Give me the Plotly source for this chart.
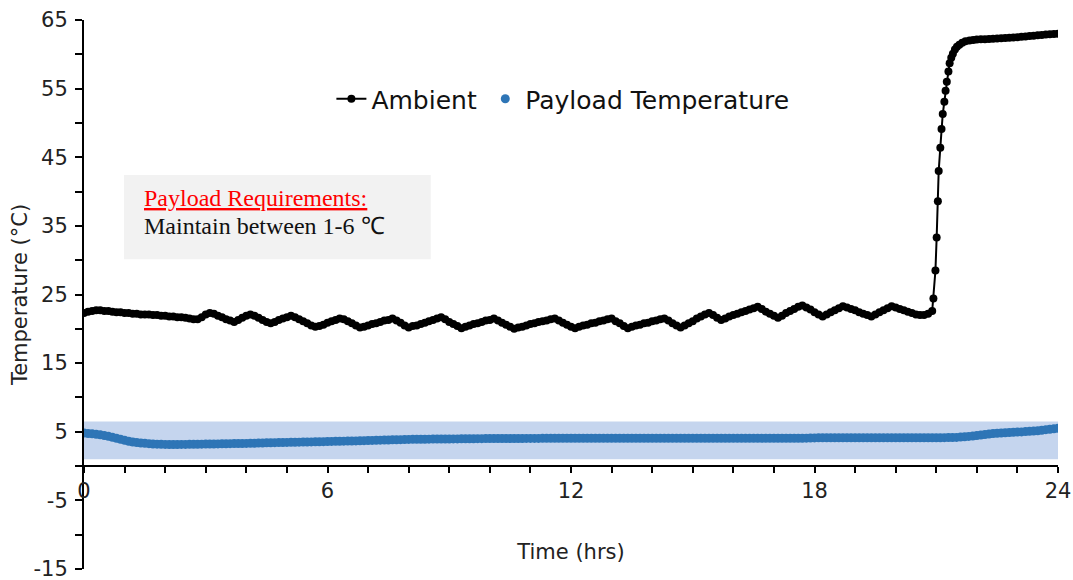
import numpy as np
import plotly.graph_objects as go

# ---------------- data ----------------
STEP_HR = 0.1  # sampling step of the regular records (hours)

# Ambient temperature, regular samples from 0.0 h to 20.9 h
AMBIENT_REG = [
    22.3, 22.5, 22.6, 22.7, 22.7, 22.6, 22.6, 22.5, 22.4, 22.4,
    22.3, 22.3, 22.2, 22.2, 22.1, 22.1, 22.1, 22.0, 22.0, 21.9,
    21.9, 21.8, 21.8, 21.7, 21.7, 21.6, 21.5, 21.4, 21.4, 21.7,
    22.1, 22.3, 22.2, 21.9, 21.7, 21.4, 21.2, 21.0, 21.3, 21.6,
    21.9, 22.1, 21.9, 21.6, 21.3, 21.0, 20.8, 21.0, 21.3, 21.5,
    21.7, 21.9, 21.7, 21.4, 21.1, 20.8, 20.5, 20.3, 20.4, 20.6,
    20.9, 21.1, 21.3, 21.5, 21.4, 21.1, 20.8, 20.5, 20.2, 20.3,
    20.5, 20.7, 20.8, 21.0, 21.2, 21.3, 21.5, 21.2, 20.9, 20.5,
    20.2, 20.4, 20.5, 20.7, 20.9, 21.1, 21.3, 21.5, 21.7, 21.4,
    21.0, 20.7, 20.4, 20.1, 20.3, 20.5, 20.7, 20.8, 21.0, 21.2,
    21.3, 21.5, 21.2, 20.9, 20.6, 20.3, 20.0, 20.2, 20.3, 20.5,
    20.7, 20.8, 21.0, 21.1, 21.2, 21.4, 21.5, 21.2, 20.9, 20.6,
    20.3, 20.1, 20.3, 20.5, 20.6, 20.8, 20.9, 21.1, 21.2, 21.4,
    21.5, 21.1, 20.8, 20.4, 20.1, 20.3, 20.5, 20.6, 20.8, 20.9,
    21.1, 21.2, 21.4, 21.5, 21.2, 20.8, 20.5, 20.2, 20.5, 20.8,
    21.1, 21.5, 21.8, 22.1, 22.3, 22.0, 21.6, 21.3, 21.5, 21.8,
    22.0, 22.2, 22.4, 22.6, 22.8, 23.0, 23.2, 22.9, 22.5, 22.2,
    21.9, 21.6, 21.9, 22.3, 22.6, 22.9, 23.2, 23.4, 23.1, 22.8,
    22.4, 22.1, 21.8, 22.1, 22.4, 22.7, 23.0, 23.3, 23.1, 22.9,
    22.7, 22.4, 22.2, 22.0, 21.8, 22.1, 22.4, 22.7, 23.0, 23.3,
    23.1, 22.9, 22.7, 22.5, 22.3, 22.1, 22.0, 22.0, 22.2, 22.6,
]

# Ambient temperature during the heat spike (irregular sample times)
AMBIENT_SPIKE_TIME = [
    20.93, 20.98, 21.01, 21.04, 21.06, 21.10, 21.13, 21.16, 21.20, 21.23,
    21.26, 21.30, 21.33, 21.37, 21.41, 21.46, 21.51, 21.57, 21.64, 21.72,
    21.82, 21.91,
]
AMBIENT_SPIKE = [
    24.4, 28.5, 33.3, 38.6, 43.0, 46.4, 49.1, 51.3, 53.1, 54.7,
    56.0, 57.5, 58.7, 59.5, 60.1, 60.7, 61.1, 61.4, 61.7, 61.9,
    62.0, 62.1,
]

# Ambient plateau, regular samples from 22.0 h to 24.0 h
PLATEAU_START_HR = 22.0
AMBIENT_PLATEAU = [
    62.15, 62.18, 62.20, 62.23, 62.26, 62.30, 62.33, 62.37, 62.41, 62.45,
    62.50, 62.55, 62.60, 62.66, 62.72, 62.77, 62.82, 62.87, 62.91, 62.95,
    63.00,
]

# Payload temperature, regular samples from 0.0 h to 24.0 h
PAYLOAD = [
    4.80, 4.75, 4.70, 4.62, 4.55, 4.46, 4.35, 4.20, 4.05, 3.90,
    3.76, 3.62, 3.51, 3.42, 3.36, 3.31, 3.26, 3.22, 3.19, 3.17,
    3.16, 3.15, 3.15, 3.15, 3.16, 3.16, 3.17, 3.17, 3.18, 3.19,
    3.20, 3.21, 3.22, 3.23, 3.24, 3.25, 3.26, 3.27, 3.28, 3.29,
    3.30, 3.32, 3.33, 3.35, 3.36, 3.38, 3.39, 3.41, 3.42, 3.44,
    3.45, 3.46, 3.47, 3.48, 3.49, 3.50, 3.52, 3.53, 3.55, 3.56,
    3.58, 3.59, 3.60, 3.61, 3.63, 3.64, 3.66, 3.67, 3.69, 3.70,
    3.72, 3.74, 3.75, 3.77, 3.78, 3.80, 3.82, 3.83, 3.85, 3.86,
    3.88, 3.89, 3.90, 3.90, 3.91, 3.92, 3.93, 3.93, 3.94, 3.94,
    3.95, 3.96, 3.96, 3.97, 3.97, 3.98, 3.98, 3.99, 3.99, 4.00,
    4.00, 4.00, 4.01, 4.01, 4.01, 4.02, 4.02, 4.02, 4.02, 4.03,
    4.03, 4.03, 4.03, 4.04, 4.04, 4.04, 4.04, 4.04, 4.05, 4.05,
    4.05, 4.05, 4.05, 4.05, 4.05, 4.05, 4.05, 4.05, 4.05, 4.05,
    4.05, 4.05, 4.05, 4.05, 4.05, 4.05, 4.05, 4.05, 4.05, 4.05,
    4.05, 4.05, 4.05, 4.05, 4.05, 4.05, 4.05, 4.05, 4.05, 4.05,
    4.04, 4.04, 4.04, 4.04, 4.04, 4.04, 4.04, 4.04, 4.04, 4.04,
    4.04, 4.04, 4.04, 4.04, 4.04, 4.04, 4.04, 4.04, 4.04, 4.04,
    4.05, 4.05, 4.05, 4.05, 4.05, 4.05, 4.06, 4.06, 4.07, 4.08,
    4.10, 4.11, 4.11, 4.11, 4.11, 4.11, 4.11, 4.11, 4.11, 4.11,
    4.11, 4.11, 4.11, 4.11, 4.11, 4.11, 4.11, 4.11, 4.11, 4.11,
    4.12, 4.12, 4.12, 4.12, 4.12, 4.12, 4.12, 4.12, 4.12, 4.12,
    4.13, 4.13, 4.14, 4.15, 4.16,
    4.18, 4.22, 4.27, 4.32, 4.37, 4.45, 4.52, 4.60, 4.68, 4.74,
    4.78, 4.82, 4.86, 4.89, 4.92, 4.95, 4.98, 5.02, 5.06, 5.10,
    5.15, 5.22, 5.30, 5.37, 5.43, 5.50,
]

REQ_LOW = 1.0    # requirement band (deg C)
REQ_HIGH = 6.5
X_RANGE = [0, 24]
Y_RANGE = [-15, 65]
X_TICKS = [0, 6, 12, 18, 24]
Y_TICKS = [-15, -5, 5, 15, 25, 35, 45, 55, 65]
Y_TICK_LABELS = ["-15", "-5", "5", "15", "25", "35", "45", "55", "65"]
Y_MINOR = [-10, 0, 10, 20, 30, 40, 50, 60]

# ---------------- build series ----------------
amb_reg_t = np.round(np.arange(len(AMBIENT_REG)) * STEP_HR, 2)
amb_plat_t = np.round(PLATEAU_START_HR + np.arange(len(AMBIENT_PLATEAU)) * STEP_HR, 2)
amb_t = np.concatenate([amb_reg_t, AMBIENT_SPIKE_TIME, amb_plat_t])
amb_v = np.concatenate([AMBIENT_REG, AMBIENT_SPIKE, AMBIENT_PLATEAU])
pay_t = np.round(np.arange(len(PAYLOAD)) * STEP_HR, 2)

FONT = "DejaVu Sans"
SERIF = "Liberation Serif"
BLUE = "#2E75B6"
BAND = "#C5D5EE"
TXT = "#222222"

fig = go.Figure()

fig.add_trace(go.Scatter(
    x=amb_t, y=amb_v, name="Ambient", mode="lines+markers",
    line=dict(color="black", width=2),
    marker=dict(color="black", size=8),
    legend="legend",
))
fig.add_trace(go.Scatter(
    x=pay_t, y=PAYLOAD, name="Payload Temperature", mode="markers",
    marker=dict(color=BLUE, size=9),
    legend="legend2",
))

# requirement band
fig.add_shape(type="rect", xref="x", yref="y",
              x0=X_RANGE[0], x1=X_RANGE[1], y0=REQ_LOW, y1=REQ_HIGH,
              fillcolor=BAND, line=dict(width=0), layer="below")

# requirements text box (paper coords)
fig.add_shape(type="rect", xref="paper", yref="paper",
              x0=0.041, x1=0.356, y0=0.564, y1=0.7177,
              fillcolor="#F2F2F2", line=dict(width=0), layer="below")
fig.add_annotation(xref="paper", yref="paper", x=0.0595, y=0.676,
                   xanchor="left", yanchor="middle", showarrow=False,
                   text="<u>Payload Requirements:</u>",
                   font=dict(family=SERIF, size=24, color="#FF0000"))
fig.add_annotation(xref="paper", yref="paper", x=0.0595, y=0.625,
                   xanchor="left", yanchor="middle", showarrow=False,
                   text="Maintain between 1-6 ℃",
                   font=dict(family=SERIF, size=24, color="#111111"))

legend_common = dict(orientation="h", y=0.856, xanchor="left", yanchor="middle",
                     font=dict(family=FONT, size=25, color="#111111"),
                     bgcolor="rgba(0,0,0,0)", itemwidth=30)

fig.update_layout(
    width=1073, height=580,
    margin=dict(l=84, r=15, t=20, b=11, autoexpand=False),
    paper_bgcolor="white", plot_bgcolor="white",
    font=dict(family=FONT, size=21, color=TXT),
    showlegend=True,
    legend=dict(x=0.254, **legend_common),
    legend2=dict(x=0.412, **legend_common),
    xaxis=dict(
        range=X_RANGE, tickvals=X_TICKS, anchor="free",
        position=(0 - Y_RANGE[0]) / (Y_RANGE[1] - Y_RANGE[0]),
        showline=True, linecolor="black", linewidth=2,
        ticks="outside", ticklen=6, tickwidth=2, tickcolor="black",
        minor=dict(dtick=1, ticks="outside", ticklen=6, tickwidth=2, tickcolor="black"),
        showgrid=False, zeroline=False, automargin=False,
        ticklabeloverflow="allow",
        tickfont=dict(family=FONT, size=21, color=TXT),
        title=dict(text="Time (hrs)", standoff=41,
                   font=dict(family=FONT, size=21, color=TXT)),
    ),
    yaxis=dict(
        range=Y_RANGE, tickvals=Y_TICKS, ticktext=Y_TICK_LABELS,
        showline=True, linecolor="black", linewidth=2,
        ticks="outside", ticklen=7, tickwidth=2, tickcolor="black",
        minor=dict(tickvals=Y_MINOR, ticks="outside", ticklen=7,
                   tickwidth=2, tickcolor="black"),
        showgrid=False, zeroline=False, automargin=False,
        ticklabeloverflow="allow",
        tickfont=dict(family=FONT, size=21, color=TXT),
        ticklabelstandoff=3,
        title=dict(text="Temperature (°C)", standoff=0,
                   font=dict(family=FONT, size=21, color=TXT)),
    ),
)

fig.write_html(
    "out.html",
    config={"displayModeBar": False},
    post_script="document.body.style.margin='0';document.body.style.padding='0';",
)
